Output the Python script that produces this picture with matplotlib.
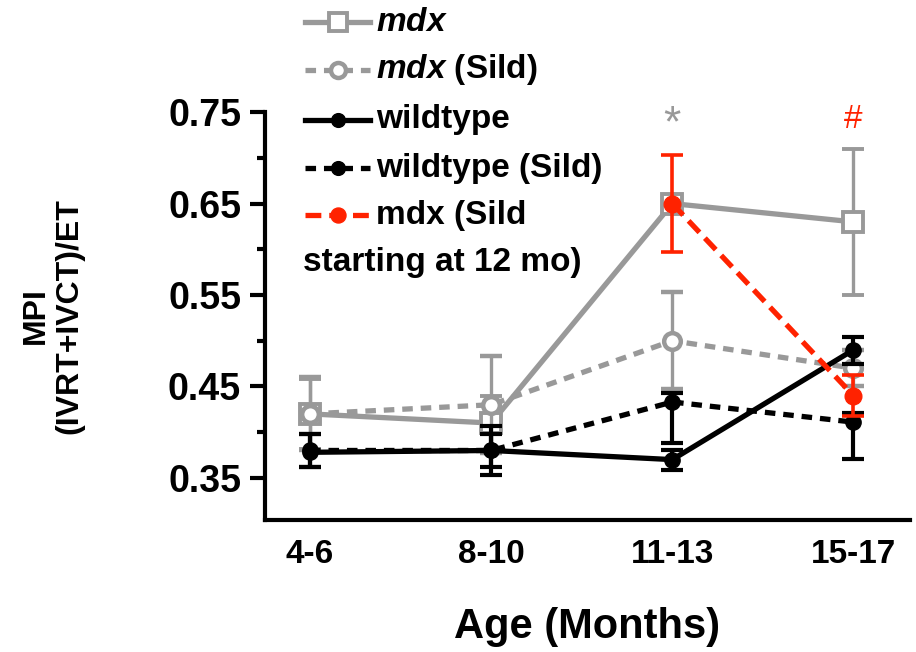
import matplotlib.pyplot as plt
from matplotlib.lines import Line2D

plt.rcParams['font.family'] = ['Liberation Sans', 'DejaVu Sans']
plt.rcParams['font.weight'] = 'bold'
plt.rcParams['axes.labelweight'] = 'bold'
plt.rcParams['mathtext.fontset'] = 'custom'
plt.rcParams['mathtext.it'] = 'Liberation Sans:italic:bold'
plt.rcParams['mathtext.rm'] = 'Liberation Sans:bold'

# Data (mean, lower / upper error)
ages = ['4-6', '8-10', '11-13', '15-17']
mdx = [0.42, 0.41, 0.65, 0.63]
mdx_lo = [0.038, 0.03, 0.0, 0.08]
mdx_hi = [0.038, 0.03, 0.0, 0.08]
mdx_sild = [0.42, 0.43, 0.50, 0.47]
mdx_sild_lo = [0.04, 0.053, 0.053, 0.02]
mdx_sild_hi = [0.04, 0.053, 0.053, 0.02]
wt = [0.378, 0.38, 0.37, 0.49]
wt_lo = [0.016, 0.018, 0.011, 0.015]
wt_hi = [0.02, 0.018, 0.011, 0.014]
wt_sild = [0.38, 0.38, 0.433, 0.411]
wt_sild_lo = [0.018, 0.027, 0.045, 0.04]
wt_sild_hi = [0.018, 0.027, 0.01, 0.01]
late_ages = ['11-13', '15-17']
mdx_late = [0.65, 0.44]
mdx_late_lo = [0.053, 0.022]
mdx_late_hi = [0.053, 0.022]

labels = [r'$\mathit{mdx}$', r'$\mathit{mdx}$ (Sild)', 'wildtype',
          'wildtype (Sild)', 'mdx (Sild']

gray = '#999999'
red = '#ff2200'

fig = plt.figure(figsize=(9.16, 6.52), dpi=100)
ax = fig.add_axes([0.289, 0.2025, 0.704, 0.6255])

x = list(range(len(ages)))
x_late = [ages.index(a) for a in late_ages]

styles = [
    dict(color=gray, ls='-', lw=3.8, marker='s', ms=15, mfc='white', mec=gray, mew=2.8, zorder=3),
    dict(color=gray, ls=(0, (2.0, 1.5)), lw=3.8, marker='o', ms=12, mfc='white', mec=gray, mew=3.2, zorder=4),
    dict(color='black', ls='-', lw=3.8, marker='o', ms=11, mfc='black', mec='black', zorder=5),
    dict(color='black', ls=(0, (2.0, 1.5)), lw=3.8, marker='o', ms=11, mfc='black', mec='black', zorder=5),
    dict(color=red, ls=(0, (3.0, 1.5)), lw=3.8, marker='o', ms=12, mfc=red, mec=red, zorder=6),
]
ebar_w = [2.4, 2.4, 3.0, 3.0, 2.6]

series = [(x, mdx, mdx_lo, mdx_hi), (x, mdx_sild, mdx_sild_lo, mdx_sild_hi),
          (x, wt, wt_lo, wt_hi), (x, wt_sild, wt_sild_lo, wt_sild_hi),
          (x_late, mdx_late, mdx_late_lo, mdx_late_hi)]

for (xs, ys, lo, hi), st, ew in zip(series, styles, ebar_w):
    ax.errorbar(xs, ys, yerr=[lo, hi], capsize=8, elinewidth=ew, capthick=ew,
                ecolor=st['color'], **st)

# significance marks
ax.text(2, 0.736, '*', color=gray, fontsize=32, ha='center', va='center',
        fontweight='normal', clip_on=False)
ax.text(3, 0.742, '#', color=red, fontsize=24, ha='center', va='center',
        fontweight='normal', clip_on=False)

ax.set_xlim(-0.25, 3.31)
ax.set_ylim(0.304, 0.75)
ax.set_xticks(x)
ax.set_xticklabels(ages)
ax.set_yticks([0.35, 0.45, 0.55, 0.65, 0.75])
ax.set_yticks([0.40, 0.50, 0.60, 0.70], minor=True)
ax.tick_params(axis='y', which='major', length=11, width=3, labelsize=27, pad=6)
ax.tick_params(axis='y', which='minor', length=6, width=3)
ax.tick_params(axis='x', length=0, labelsize=24, pad=14)
for s in ['top', 'right']:
    ax.spines[s].set_visible(False)
for s in ['left', 'bottom']:
    ax.spines[s].set_linewidth(3)
ax.set_xlabel('Age (Months)', fontsize=30, labelpad=26)
ax.set_ylabel('MPI\n(IVRT+IVCT)/ET', fontsize=23, labelpad=60, linespacing=1.15)

# legend drawn by hand above the plot
row_y = [0.966, 0.893, 0.816, 0.742, 0.670]
for lab, st, yy in zip(labels, styles, row_y):
    kw = {k: v for k, v in st.items() if k != 'zorder'}
    kw['ms'] = kw['ms'] * 0.9
    fig.add_artist(Line2D([0.333, 0.404], [yy, yy], transform=fig.transFigure,
                          **{**kw, 'marker': None}))
    fig.add_artist(Line2D([0.3685], [yy], transform=fig.transFigure, **kw))
    fig.text(0.411, yy, lab, fontsize=24, va='center', ha='left')
fig.text(0.331, 0.597, 'starting at 12 mo)', fontsize=24, va='center', ha='left')

fig.savefig('out.png', dpi=100)
